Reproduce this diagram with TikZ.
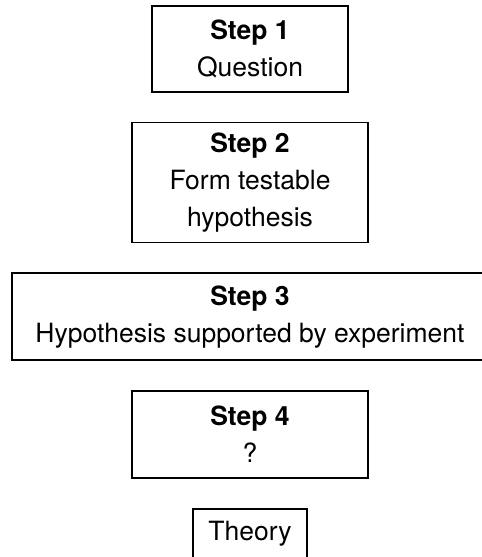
\documentclass[tikz,border=0pt]{standalone}
\usepackage{fontspec}
\setmainfont{TeX Gyre Heros}
\usepackage{tikz}
\usetikzlibrary{positioning}

\begin{document}
\begin{tikzpicture}[
    x=1pt, y=1pt,
    node distance=29pt,
    stepbox/.style={draw, line width=1.7pt, align=center, inner sep=0pt, font=\fontsize{26.5}{37}\selectfont},
]
\useasboundingbox (0,0) rectangle (482,-557);
\node[stepbox, anchor=north, minimum width=196pt, minimum height=86pt] (s1) at (250,-5) {\textbf{Step 1}\\Question};
\node[stepbox, below=of s1, minimum width=236pt, minimum height=120pt] (s2) {\textbf{Step 2}\\Form testable\\hypothesis};
\node[stepbox, below=of s2, minimum width=476pt, minimum height=87pt] (s3) {\textbf{Step 3}\\Hypothesis supported by experiment};
\node[stepbox, below=of s3, minimum width=236pt, minimum height=87pt] (s4) {\textbf{Step 4}\\?};
\node[stepbox, below=of s4, minimum width=114pt, minimum height=51pt] (th) {Theory};
\end{tikzpicture}
\end{document}
